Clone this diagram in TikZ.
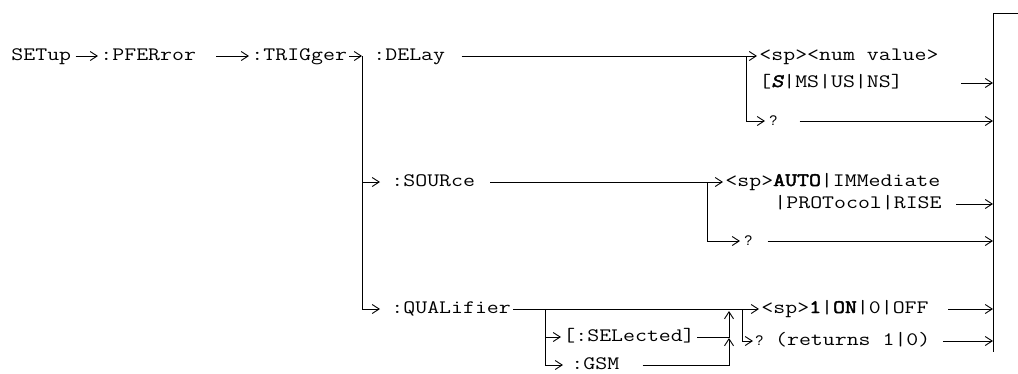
\documentclass[tikz,border=0pt]{standalone}
\usepackage{fontspec}
\setmonofont{Latin Modern Mono}[FakeStretch=1.22,
	BoldFont={Latin Modern Mono}, BoldFeatures={FakeBold=2.5},
	ItalicFont={Latin Modern Mono}, ItalicFeatures={FakeSlant=0.2},
	BoldItalicFont={Latin Modern Mono}, BoldItalicFeatures={FakeBold=2.5,FakeSlant=0.2}]
\setsansfont{Liberation Sans}
\usetikzlibrary{arrows.meta}
\newcommand{\qmark}{{\sffamily\fontsize{14}{16}\selectfont ?}}
\begin{document}
\begin{tikzpicture}[x=1pt,y=-1pt,line width=0.9pt,
	cmd/.style={ anchor=west, inner xsep=2pt, inner ysep=0pt, text height=11pt, text depth=3pt, font=\ttfamily\fontsize{19}{23}\selectfont },
	arr/.style={ -{Straight Barb[length=7pt,width=9pt]} }
]
\useasboundingbox (0,0) rectangle (1018,373);

\node at (9,56) (setup) [cmd] {SETup};
\node at (98,56) (pferror) [cmd] {:PFERror};
\node at (249,56) (trigger) [cmd] {:TRIGger};
\coordinate (mtop) at (362,56);
\coordinate (msrc) at (362,182);
\coordinate (mqual) at (362,309);
\draw[arr] ([xshift=2pt]setup.east) -- (pferror);
\draw[arr] ([xshift=18pt]pferror.east) -- (trigger);
\draw[arr] (trigger) -- (mtop);
\draw (mtop) -- (mqual);

\node at (371,56) (delay) [cmd] {:DELay};
\node at (757,56) (delval) [cmd] {<sp><num value>};
\node at (757,83) (delunit) [cmd] {[\textbf{\textit{S}}|MS|US|NS]};
\node at (767,121) (delq) [cmd] {\qmark};
\coordinate (dj) at (746,56);
\draw ([xshift=14pt]delay.east) -- (dj);
\draw[arr] (dj) -- (delval);
\draw[arr,shorten >=2pt] (dj) |- (delq);

\node at (389,182) (source) [cmd] {:SOURce};
\node at (723,182) (srcval) [cmd] {<sp>\textbf{AUTO}|IMMediate};
\node at (772,204) (srcval2) [cmd] {|PROTocol|RISE};
\node at (742,241) (srcq) [cmd] {\qmark};
\coordinate (sj) at (707,182);
\draw[arr,shorten >=9pt] (msrc) -- (source);
\draw ([xshift=13pt]source.east) -- (sj);
\draw[arr] (sj) -- (srcval);
\draw[arr,shorten >=2pt] (sj) |- (srcq);

\node at (389,309) (qualifier) [cmd] {:QUALifier};
\node at (561,337) (selected) [cmd] {[:SELected]};
\node at (569,365) (gsm) [cmd] {:GSM};
\node at (759,309) (qualval) [cmd] {<sp>\textbf{1}|\textbf{ON}|0|OFF};
\node at (753,341) (qualq) [cmd] {\qmark{} (returns 1|0)};
\coordinate (qa) at (545,309);
\coordinate (qb) at (729,311);
\coordinate (qc) at (742,309);
\coordinate (qd) at (729,338);
\draw[arr,shorten >=9pt] (mqual) -- (qualifier);
\draw (qualifier) -- (qc);
\draw[arr] (qc) -- (qualval);
\draw[arr] (qc) |- (qualq);
\draw[arr] (qa) |- (selected);
\draw[arr,shorten >=6pt] (qa) |- (gsm);
\draw[arr] (selected) -| (qb);
\draw[arr] ([xshift=21pt]gsm.east) -| (qd);

\coordinate (rtop) at (993,13);
\coordinate (rcorner) at (1018,13);
\coordinate (rbot) at (993,352);
\draw (rcorner) -- (rtop) -- (rbot);
\foreach \n/\g in {delunit/56,delq/20,srcval2/12,srcq/13,qualval/17,qualq/10}
	\draw[arr] ([xshift=\g pt]\n.east) -- (\n.east -| rtop);

\end{tikzpicture}
\end{document}
